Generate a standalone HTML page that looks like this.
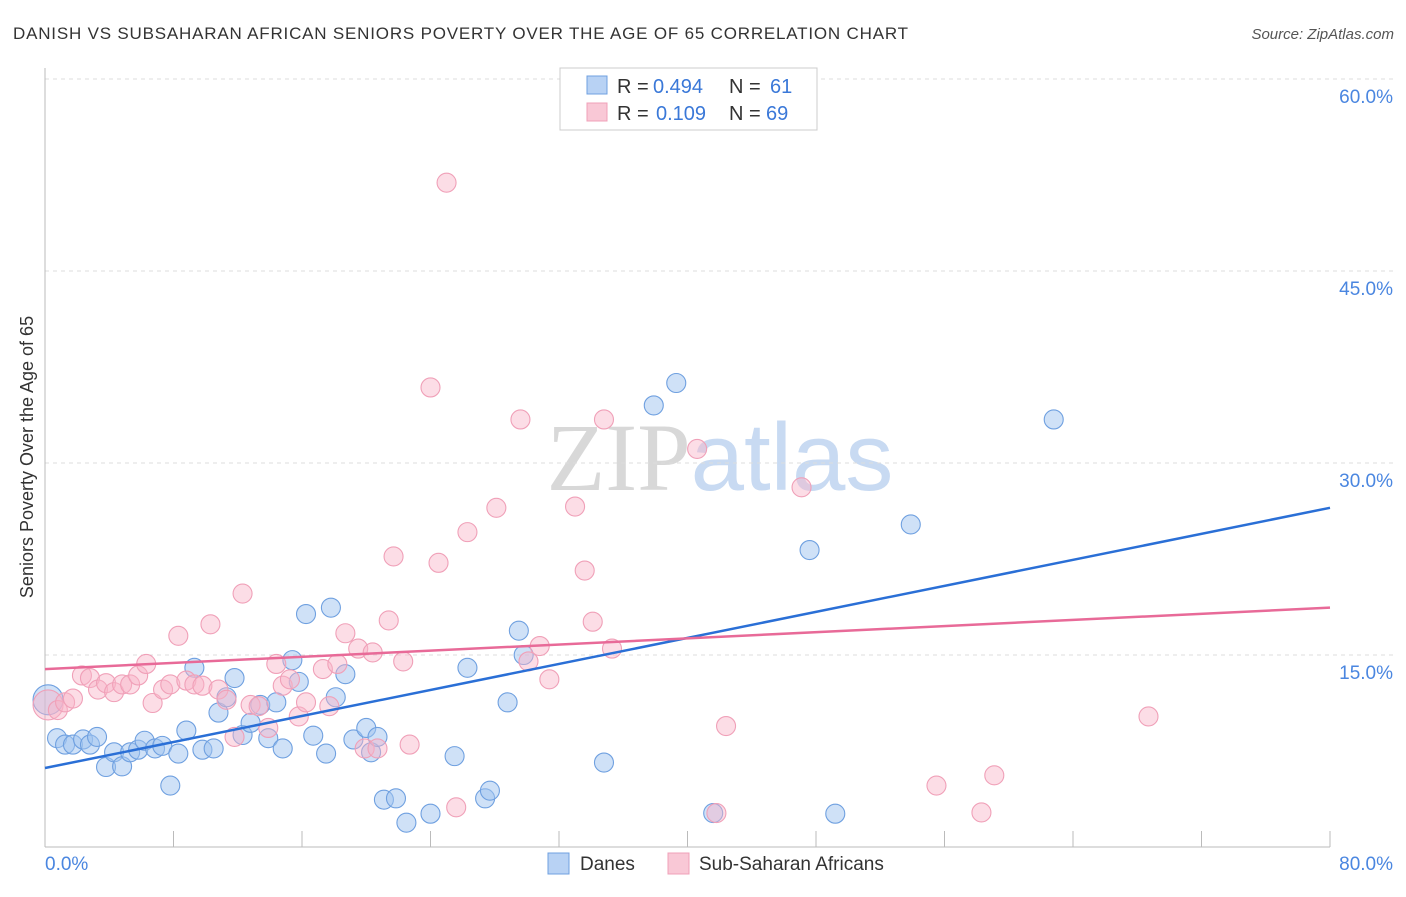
<!DOCTYPE html>
<html><head><meta charset="utf-8"><style>
body{margin:0;background:#fff;font-family:"Liberation Sans",sans-serif}
svg text{font-family:"Liberation Sans",sans-serif}
</style></head><body>
<svg id="chart" width="1406" height="892" xmlns="http://www.w3.org/2000/svg">
<text x="13" y="39" font-size="17" textLength="895" fill="#333">DANISH VS SUBSAHARAN AFRICAN SENIORS POVERTY OVER THE AGE OF 65 CORRELATION CHART</text>
<text x="1394" y="39" font-size="15" fill="#555" text-anchor="end" font-style="italic">Source: ZipAtlas.com</text>
<text x="720" y="490" font-size="96" text-anchor="middle"><tspan fill="#d8d8d8" font-family="Liberation Serif">ZIP</tspan><tspan fill="#c8daf2">atlas</tspan></text>
<g id="grid"></g><g id="axes"></g><g id="pts"></g><g id="trends"></g>
<text transform="translate(33,457) rotate(-90)" font-size="18" fill="#333" text-anchor="middle">Seniors Poverty Over the Age of 65</text>
<g>
<rect x="560" y="68" width="257" height="62" fill="#fff" stroke="#ccc"/>
<rect x="587" y="76" width="20" height="18" fill="#b8d2f4" stroke="#6fa0e0"/>
<rect x="587" y="103" width="20" height="18" fill="#f9c8d6" stroke="#f0a0b8"/>
<text x="617" y="93" font-size="20" fill="#333">R =</text>
<text x="653" y="93" font-size="20" fill="#3a78d8">0.494</text>
<text x="729" y="93" font-size="20" fill="#333">N =</text>
<text x="770" y="93" font-size="20" fill="#3a78d8">61</text>
<text x="617" y="120" font-size="20" fill="#333">R =</text>
<text x="656" y="120" font-size="20" fill="#3a78d8">0.109</text>
<text x="729" y="120" font-size="20" fill="#333">N =</text>
<text x="766" y="120" font-size="20" fill="#3a78d8">69</text>
</g>
<g>
<rect x="548" y="853" width="21" height="21" fill="#b8d2f4" stroke="#6fa0e0"/>
<text x="580" y="870" font-size="19" fill="#333">Danes</text>
<rect x="668" y="853" width="21" height="21" fill="#f9c8d6" stroke="#f0a0b8"/>
<text x="699" y="870" font-size="19" fill="#333">Sub-Saharan Africans</text>
</g>
</svg>
<script>
const xTicks=[0,8,16,24,32,40,48,56,64,72,80];
const yGrid=[15,30,45,60];
const yLabels=["15.0%","30.0%","45.0%","60.0%"];
const daneX=[0.19,0.75,1.25,1.74,2.37,2.8,3.24,3.8,4.3,4.8,5.3,5.8,6.2,6.85,7.3,7.8,8.3,8.8,9.3,9.8,10.5,10.8,11.3,11.8,12.3,12.8,13.4,13.9,14.4,14.8,15.4,15.8,16.25,16.7,17.5,17.8,18.1,18.7,19.2,20.0,20.3,20.7,21.1,21.85,22.5,24.0,25.5,26.3,27.4,27.7,28.8,29.5,29.8,34.8,37.9,39.3,41.6,47.6,49.2,53.9,62.8];
const daneY=[11.5,8.5,8.0,8.0,8.4,8.0,8.6,6.25,7.4,6.3,7.4,7.6,8.3,7.7,7.9,4.8,7.3,9.1,14.0,7.6,7.7,10.5,11.7,13.2,8.75,9.7,11.1,8.5,11.3,7.7,14.6,12.9,18.2,8.7,7.3,18.7,11.7,13.5,8.4,9.3,7.4,8.6,3.7,3.8,1.9,2.6,7.1,14.0,3.8,4.4,11.3,16.9,15.0,6.6,34.5,36.25,2.65,23.2,2.6,25.2,33.4];
const ssaX=[0.19,0.8,1.25,1.74,2.3,2.8,3.3,3.8,4.3,4.8,5.3,5.8,6.3,6.7,7.35,7.8,8.3,8.8,9.3,9.8,10.3,10.8,11.3,11.8,12.3,12.8,13.3,13.9,14.4,14.8,15.25,15.8,16.25,17.3,17.7,18.2,18.7,19.5,19.9,20.4,20.7,21.4,21.7,22.3,22.7,24.0,24.5,25.0,25.6,26.3,28.1,29.6,30.1,30.8,31.4,33.0,33.6,34.1,34.8,35.3,40.6,41.8,42.4,47.1,55.5,58.3,59.1,68.7];
const ssaY=[11.1,10.7,11.3,11.6,13.4,13.2,12.3,12.8,12.1,12.7,12.7,13.4,14.3,11.25,12.3,12.7,16.5,13.0,12.7,12.6,17.4,12.3,11.5,8.6,19.8,11.1,11.0,9.3,14.3,12.6,13.1,10.2,11.3,13.9,11.0,14.3,16.7,15.5,7.7,15.2,7.7,17.7,22.7,14.5,8.0,35.9,22.2,51.9,3.1,24.6,26.5,33.4,14.5,15.7,13.1,26.6,21.6,17.6,33.4,15.5,31.1,2.65,9.45,28.1,4.8,2.7,5.6,10.2];
const daneTrend=[6.17,26.5];
const ssaTrend=[13.9,18.7];
const NS='http://www.w3.org/2000/svg';
const X=v=>45+v*(1285/80), Y=v=>847-v*12.8;
function mk(p,t,a){const e=document.createElementNS(NS,t);for(const k in a)e.setAttribute(k,a[k]);document.getElementById(p).appendChild(e);return e;}
yGrid.forEach((g,i)=>{
 const l=mk('grid','line',{x1:45,x2:1394,y1:Y(g),y2:Y(g),stroke:'#ddd','stroke-dasharray':'4,4'});
 
 
 const t=mk('grid','text',{x:1393,y:Y(g)+24,'font-size':19,fill:'#4a86e0','text-anchor':'end'});t.textContent=yLabels[i];
 
 
});
const ax=mk('axes','line',{x1:45,x2:45,y1:68,y2:847,stroke:'#bbb'});


const bx=mk('axes','line',{x1:45,x2:1330,y1:847,y2:847,stroke:'#bbb'});


xTicks.forEach(v=>{const t=mk('axes','line',{x1:X(v),x2:X(v),y1:831,y2:847,stroke:'#bbb'});
 
 });
[[0,'0.0%','start',45],[80,'80.0%','end',1393]].forEach(d=>{const t=mk('axes','text',{x:d[3],y:870,'font-size':19,fill:'#4a86e0','text-anchor':d[2]});t.textContent=d[1];
 
 });
function pts(xs,ys,fill,stroke,name){xs.forEach((x,i)=>{const c=mk('pts','circle',{cx:X(x),cy:Y(ys[i]),r:i==0?15:9.5,fill:fill,stroke:stroke,'stroke-width':1.1});
 
 });}
pts(daneX,daneY,'rgba(160,196,240,0.5)','#6fa0e0','danes-point');
pts(ssaX,ssaY,'rgba(248,180,200,0.45)','#f0a0b8','ssa-point');
const t1=mk('trends','line',{x1:X(0),x2:X(80),y1:Y(daneTrend[0]),y2:Y(daneTrend[1]),stroke:'#2a6fd6','stroke-width':2.5});


const t2=mk('trends','line',{x1:X(0),x2:X(80),y1:Y(ssaTrend[0]),y2:Y(ssaTrend[1]),stroke:'#e86a98','stroke-width':2.5});


</script>
</body></html>
